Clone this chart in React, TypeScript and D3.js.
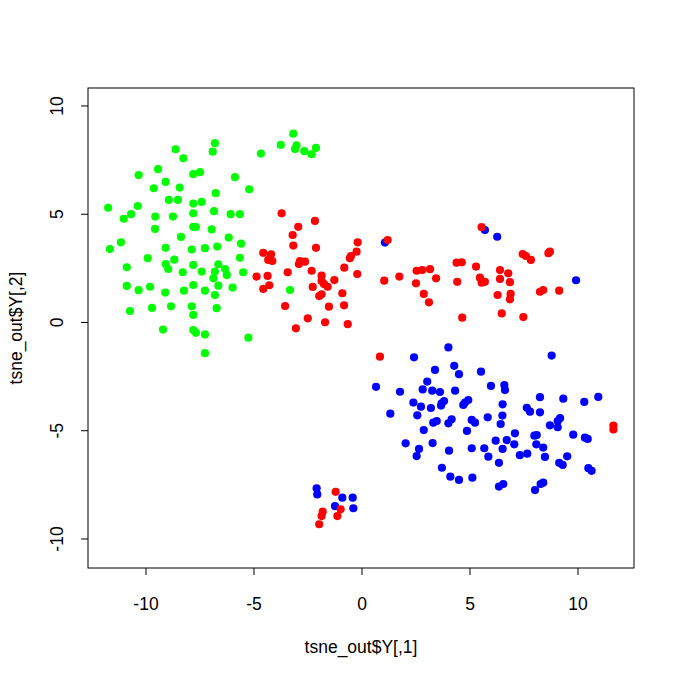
import React from "react";
import * as d3 from "d3";

const xTicks = [-10, -5, 0, 5, 10];
const yTicks = [-10, -5, 0, 5, 10];
const xLabel = "tsne_out$Y[,1]";
const yLabel = "tsne_out$Y[,2]";

const greenPts: [number, number][] = [
  [-8.63, 8.0], [-8.27, 7.58], [-9.44, 7.08], [-10.34, 6.81], [-7.81, 6.85], [-9.09, 6.49], [-9.64, 6.2], [-8.44, 6.23],
  [-8.94, 5.66], [-8.52, 5.66], [-7.81, 5.49], [-11.75, 5.3], [-10.38, 5.38], [-10.69, 5.0], [-11.03, 4.79], [-9.57, 4.89],
  [-8.75, 4.89], [-7.81, 5.04], [-9.58, 4.32], [-7.81, 4.42], [-8.38, 3.95], [-11.16, 3.7], [-11.67, 3.39], [-9.09, 3.45],
  [-7.88, 3.37],
  [-6.81, 8.28], [-6.91, 7.89], [-4.68, 7.8], [-3.76, 8.2], [-3.18, 8.72], [-3.1, 8.01], [-3.03, 8.18], [-2.67, 7.91],
  [-2.33, 7.77], [-2.13, 8.06],
  [-7.5, 6.94], [-5.88, 6.71], [-5.22, 6.15], [-6.77, 5.97], [-7.42, 5.57], [-6.85, 5.14], [-6.08, 5.0], [-5.65, 5.0],
  [-7.69, 4.41], [-6.96, 4.3], [-6.17, 3.92], [-5.6, 3.64], [-7.27, 3.43], [-6.7, 3.51],
  [-9.92, 2.97], [-10.89, 2.55], [-9.09, 2.7], [-8.97, 2.47], [-8.69, 2.9], [-8.3, 2.32], [-7.81, 2.66], [-10.89, 1.69],
  [-10.34, 1.49], [-9.81, 1.65], [-9.11, 1.38], [-8.24, 1.47], [-7.81, 1.73], [-10.74, 0.53], [-9.72, 0.67], [-8.84, 0.75],
  [-7.88, 0.75], [-7.81, 0.35], [-9.21, -0.33], [-7.81, -0.35], [-7.69, -0.48],
  [-5.65, 2.99], [-7.42, 2.35], [-6.65, 2.69], [-6.81, 2.35], [-6.88, 2.04], [-6.34, 2.47], [-6.26, 2.19], [-5.5, 2.32],
  [-7.27, 1.47], [-6.65, 1.7], [-6.81, 1.27], [-5.99, 1.61], [-6.73, 0.66], [-7.27, -0.55], [-5.26, -0.7], [-7.27, -1.42],
  [-3.33, 1.5],
];

const redPts: [number, number][] = [
  [-3.72, 5.04], [-2.18, 4.69], [-2.95, 4.42], [-3.21, 4.04], [-3.18, 3.55], [-2.13, 3.45], [-0.2, 3.7], [-0.25, 3.27],
  [-0.51, 3.07], [-0.56, 2.97], [-4.57, 3.22], [-4.21, 3.15], [-4.34, 2.89], [-4.15, 2.84], [-2.87, 2.84], [-2.64, 2.81],
  [-2.92, 2.7], [-3.44, 2.32], [-2.33, 2.39], [-0.82, 2.53], [-0.22, 2.24], [-4.88, 2.12], [-4.37, 2.15], [-1.87, 2.16],
  [-1.87, 1.92], [-1.76, 1.78], [-1.59, 1.65], [-1.28, 1.96], [-4.57, 1.55], [-4.29, 1.72], [-2.28, 1.64], [-0.91, 1.35],
  [-1.87, 1.3], [-1.98, 1.22], [-3.56, 0.76], [-1.53, 0.73], [-0.83, 0.79], [-2.51, 0.19], [-1.71, 0.01], [-0.66, -0.08],
  [-3.06, -0.27],
  [1.19, 3.81], [1.03, 1.93], [1.73, 2.12], [2.53, 2.39], [2.79, 2.42], [3.15, 2.46], [3.43, 2.04], [2.5, 1.81],
  [2.86, 1.32], [3.1, 0.93], [4.38, 2.76], [4.62, 2.78], [4.41, 1.88], [4.64, 0.22],
  [5.54, 4.4], [7.44, 3.16], [7.59, 3.07], [7.82, 2.89], [8.63, 3.2], [8.7, 3.27], [5.28, 2.58], [6.39, 2.42],
  [6.77, 2.27], [5.46, 2.07], [5.54, 1.84], [5.69, 1.88], [6.39, 2.01], [6.85, 1.86], [6.28, 1.27], [6.88, 1.32],
  [6.85, 1.07], [8.24, 1.42], [8.39, 1.5], [9.13, 1.47], [6.47, 0.42], [7.47, 0.25],
  [0.83, -1.58], [11.64, -4.76], [11.64, -4.94],
  [-1.22, -7.82], [-0.99, -8.63], [-1.14, -8.94], [-1.82, -8.74], [-1.87, -8.94], [-1.98, -9.32],
];

const bluePts: [number, number][] = [
  [1.06, 3.69], [5.69, 4.27], [6.26, 3.96], [9.91, 1.95],
  [-2.1, -7.66], [-2.07, -7.94], [-0.91, -8.09], [-0.43, -8.09], [-1.25, -8.48], [-0.4, -8.58],
  [4.0, -1.15], [2.41, -1.61], [4.27, -2.0], [3.38, -2.19], [4.49, -2.39], [5.51, -2.27], [3.02, -2.73], [0.65, -2.97],
  [1.76, -3.2], [2.81, -3.09], [3.25, -3.15], [3.61, -3.21], [4.31, -3.15], [2.38, -3.7], [2.73, -3.89], [3.19, -3.95],
  [3.69, -3.73], [3.8, -3.63], [3.66, -3.84], [4.69, -3.81], [4.77, -3.7], [4.92, -3.58], [1.31, -4.21], [2.56, -4.29],
  [3.3, -4.63], [3.46, -4.55], [4.0, -4.66], [4.15, -4.47], [5.08, -4.5], [5.23, -4.63], [2.86, -4.97], [4.86, -5.01],
  [2.02, -5.58], [3.27, -5.57], [2.64, -5.84], [2.53, -6.17], [4.03, -5.92], [5.08, -5.81], [3.7, -6.71], [4.09, -7.12],
  [4.49, -7.27], [5.11, -7.17],
  [8.78, -1.53], [5.97, -2.93], [6.59, -2.89], [6.62, -3.12], [8.24, -3.45], [9.32, -3.52], [10.29, -3.67], [10.94, -3.44],
  [6.51, -3.78], [7.63, -3.94], [7.78, -4.12], [8.24, -4.15], [5.82, -4.38], [6.5, -4.3], [6.42, -4.69], [9.17, -4.42],
  [9.06, -4.55], [9.06, -4.84], [8.7, -4.75], [7.08, -5.12], [7.98, -5.23], [8.09, -5.2], [9.78, -5.18], [10.32, -5.32],
  [10.45, -5.38], [6.19, -5.46], [6.7, -5.43], [7.05, -5.63], [8.07, -5.63], [8.39, -5.78], [5.66, -5.81], [6.51, -5.84],
  [7.31, -6.13], [7.65, -6.06], [8.47, -6.21], [9.5, -6.18], [5.85, -6.2], [6.34, -6.48], [9.13, -6.48], [9.29, -6.58],
  [10.48, -6.73], [10.63, -6.85], [6.34, -7.58], [6.54, -7.46], [8.27, -7.46], [8.39, -7.4], [8.01, -7.74],
];

const groups = [
  { pts: greenPts, color: "#00ff00" },
  { pts: bluePts, color: "#0000ff" },
  { pts: redPts, color: "#ff0000" },
];

export default function App() {
  const W = 680, H = 680;
  const left = 88, right = 634, top = 88, bottom = 568;
  const x = d3.scaleLinear().domain([-12.685, 12.593]).range([left, right]);
  const y = d3.scaleLinear().domain([-11.34, 10.83]).range([bottom, top]);
  const font = "'Liberation Sans', Arial, Helvetica, sans-serif";
  const fs = 17.5;
  return (
    <svg width={W} height={H} style={{ position: "absolute", left: 0, top: 0, background: "#fff" }}>
      <rect x={0} y={0} width={W} height={H} fill="#fff" />
      {groups.map((g, gi) =>
        g.pts.map((p, i) => (
          <circle key={gi + "-" + i} cx={x(p[0])} cy={y(p[1])} r={4.1} fill={g.color} />
        ))
      )}
      <rect x={left} y={top} width={right - left} height={bottom - top} fill="none" stroke="#000" strokeWidth={1} />
      {xTicks.map((t) => (
        <g key={"xt" + t}>
          <line x1={x(t)} x2={x(t)} y1={bottom} y2={bottom + 7} stroke="#000" />
          <text x={x(t)} y={604} textAnchor="middle" dominantBaseline="central" fontFamily={font} fontSize={fs}>
            {t}
          </text>
        </g>
      ))}
      {yTicks.map((t) => (
        <g key={"yt" + t}>
          <line x1={left - 7} x2={left} y1={y(t)} y2={y(t)} stroke="#000" />
          <text
            transform={`translate(57,${y(t)}) rotate(-90)`}
            textAnchor="middle"
            dominantBaseline="central"
            fontFamily={font}
            fontSize={fs}
          >
            {t}
          </text>
        </g>
      ))}
      <text x={(left + right) / 2} y={647} textAnchor="middle" dominantBaseline="central" fontFamily={font} fontSize={fs}>
        {xLabel}
      </text>
      <text
        transform={`translate(16,${(top + bottom) / 2}) rotate(-90)`}
        textAnchor="middle"
        dominantBaseline="central"
        fontFamily={font}
        fontSize={fs}
      >
        {yLabel}
      </text>
    </svg>
  );
}
